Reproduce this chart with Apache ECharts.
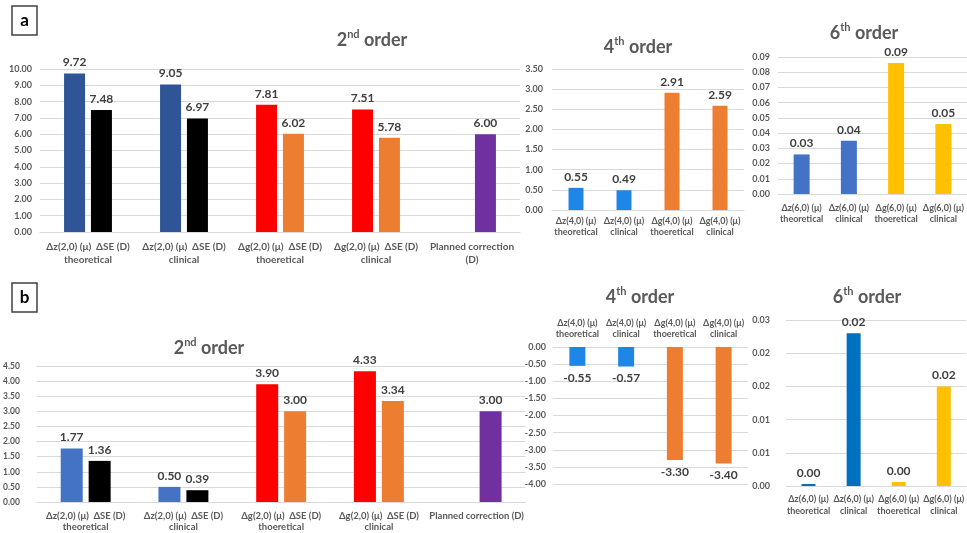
<!DOCTYPE html>
<html><head><meta charset="utf-8">
<script src="https://cdn.jsdelivr.net/npm/echarts@6/dist/echarts.min.js"></script>
<style>html,body{margin:0;padding:0;background:#fff}#c{width:967px;height:533px}</style>
</head><body><div id="c"></div>
<script>
// ---------- DATA ----------
// Panel a – 2nd order
const a2Groups = ['Δz(2,0) (μ)  ΔSE (D)\ntheoretical', 'Δz(2,0) (μ)  ΔSE (D)\nclinical', 'Δg(2,0) (μ)  ΔSE (D)\nthoeretical', 'Δg(2,0) (μ)  ΔSE (D)\nclinical', 'Planned correction\n(D)'];
const a2First = [9.72, 9.05, 7.81, 7.51, null];
const a2Second = [7.48, 6.97, 6.02, 5.78, 6.00];
// Panel a – 4th order
const a4Cats = ['Δz(4,0) (μ)\ntheoretical', 'Δz(4,0) (μ)\nclinical', 'Δg(4,0) (μ)\nthoeretical', 'Δg(4,0) (μ)\nclinical'];
const a4Values = [0.55, 0.49, 2.91, 2.59];
// Panel a – 6th order
const a6Cats = ['Δz(6,0) (μ)\ntheoretical', 'Δz(6,0) (μ)\nclinical', 'Δg(6,0) (μ)\nthoeretical', 'Δg(6,0) (μ)\nclinical'];
const a6Values = [0.026, 0.035, 0.086, 0.046];
// Panel b – 2nd order
const b2Groups = ['Δz(2,0) (μ)  ΔSE (D)\ntheoretical', 'Δz(2,0) (μ)  ΔSE (D)\nclinical', 'Δg(2,0) (μ)  ΔSE (D)\nthoeretical', 'Δg(2,0) (μ)  ΔSE (D)\nclinical', 'Planned correction (D)'];
const b2First = [1.77, 0.50, 3.90, 4.33, null];
const b2Second = [1.36, 0.39, 3.00, 3.34, 3.00];
// Panel b – 4th order
const b4Cats = ['Δz(4,0) (μ)\ntheoretical', 'Δz(4,0) (μ)\nclinical', 'Δg(4,0) (μ)\nthoeretical', 'Δg(4,0) (μ)\nclinical'];
const b4Values = [-0.55, -0.57, -3.30, -3.40];
// Panel b – 6th order
const b6Cats = ['Δz(6,0) (μ)\ntheoretical', 'Δz(6,0) (μ)\nclinical', 'Δg(6,0) (μ)\nthoeretical', 'Δg(6,0) (μ)\nclinical'];
const b6Values = [0.0003, 0.023, 0.0006, 0.015];

// ---------- STYLES ----------
const BLUE_D = '#2F5597', BLUE_M = '#4472C4', BLUE_B = '#1E86E6', BLUE_O = '#0070C0';
const RED = '#FF0000', ORANGE = '#ED7D31', BLACK = '#000000', PURPLE = '#7030A0', YELLOW = '#FFC000';
const a2FirstColors = [BLUE_D, BLUE_D, RED, RED, RED];
const a2SecondColors = [BLACK, BLACK, ORANGE, ORANGE, PURPLE];
const b2FirstColors = [BLUE_M, BLUE_M, RED, RED, RED];
const b2SecondColors = [BLACK, BLACK, ORANGE, ORANGE, PURPLE];
const a4Colors = [BLUE_B, BLUE_B, ORANGE, ORANGE];
const b4Colors = [BLUE_B, BLUE_B, ORANGE, ORANGE];
const a6Colors = [BLUE_M, BLUE_M, YELLOW, YELLOW];
const b6Colors = [BLUE_O, BLUE_O, YELLOW, YELLOW];

const GRID_C = '#D9D9D9', LBL_C = '#595959', DL_C = '#404040', FONT = 'Lato';
const fmt = v => {
  if (v === null || v === undefined || v === '-' || isNaN(v)) return '';
  const r = Math.round(v * 100 + (v >= 0 ? 1e-7 : -1e-7)) / 100;
  return (Object.is(r, -0) ? 0 : r).toFixed(2);
};

const grids = [
  {left: 40, top: 69, width: 480, height: 163},
  {left: 552, top: 69, width: 192, height: 141},
  {left: 778, top: 57, width: 193, height: 137},
  {left: 35.5, top: 366, width: 490, height: 137},
  {left: 553, top: 347, width: 195, height: 137},
  {left: 786, top: 320, width: 183, height: 166}
];

function xAx(i, data, o) {
  return {
    type: 'category', gridIndex: i, data: data, position: o.pos || 'bottom',
    axisTick: {show: false},
    axisLine: {lineStyle: {color: GRID_C, width: 1}},
    axisLabel: {interval: 0, fontSize: o.fs, fontWeight: 'bold', color: LBL_C, fontFamily: FONT,
      lineHeight: o.lh, margin: o.m}
  };
}
function yAx(i, min, max, itv, o) {
  return {
    type: 'value', gridIndex: i, min: min, max: max, interval: itv,
    axisLine: {show: false}, axisTick: {show: false},
    splitLine: {lineStyle: {color: GRID_C, width: 1}},
    axisLabel: {formatter: fmt, fontSize: o.fs, fontWeight: 'bold', color: LBL_C, fontFamily: FONT, margin: o.m}
  };
}
function items(vals, cols) {
  return vals.map((v, i) => ({value: v, itemStyle: {color: cols[i]}}));
}
function bar(i, vals, cols, o) {
  return {
    type: 'bar', xAxisIndex: i, yAxisIndex: i, data: items(vals, cols),
    barWidth: o.bw, barGap: o.gap || '30%',
    label: {show: true, position: o.lp || 'top', distance: o.d || 5, formatter: p => fmt(p.value),
      fontSize: o.lfs || 12, fontWeight: 'bold', color: DL_C, fontFamily: FONT},
    silent: true, animation: false
  };
}

function titleText(x, y, num, sup) {
  return {
    type: 'text', x: x, y: y,
    style: {
      text: '{m|' + num + '}{s|' + sup + '}{m| order}',
      align: 'center', verticalAlign: 'middle',
      rich: {
        m: {fontSize: 18, fontWeight: 'bold', fill: LBL_C, fontFamily: FONT, lineHeight: 22},
        s: {fontSize: 11, fontWeight: 'bold', fill: LBL_C, fontFamily: FONT, lineHeight: 13, verticalAlign: 'top'}
      }
    }
  };
}
function box(y, letter) {
  return [
    {type: 'rect', shape: {x: 12, y: y, width: 25, height: 29}, style: {fill: '#fff', stroke: '#404040', lineWidth: 1.5}},
    {type: 'text', x: 24.5, y: y + 14.5, style: {text: letter, align: 'center', verticalAlign: 'middle',
      fontSize: 17, fontWeight: 'bold', fill: '#000', fontFamily: FONT}}
  ];
}

const option = {
  backgroundColor: '#fff',
  animation: false,
  textStyle: {fontFamily: FONT},
  grid: grids,
  xAxis: [
    xAx(0, a2Groups, {fs: 10, lh: 13, m: 8}),
    xAx(1, a4Cats, {fs: 9, lh: 11, m: 6}),
    xAx(2, a6Cats, {fs: 9, lh: 11, m: 9}),
    xAx(3, b2Groups, {fs: 9.5, lh: 11.5, m: 8}),
    xAx(4, b4Cats, {fs: 9, lh: 11, m: 7, pos: 'top'}),
    xAx(5, b6Cats, {fs: 9, lh: 12, m: 7})
  ],
  yAxis: [
    yAx(0, 0, 10, 1, {fs: 9, m: 8}),
    yAx(1, 0, 3.5, 0.5, {fs: 9, m: 9}),
    yAx(2, 0, 0.09, 0.01, {fs: 9, m: 8}),
    yAx(3, 0, 4.5, 0.5, {fs: 8.5, m: 17}),
    yAx(4, -4, 0, 0.5, {fs: 9, m: 7}),
    yAx(5, 0, 0.025, 0.005, {fs: 9, m: 16})
  ],
  series: [
    bar(0, a2First, a2FirstColors, {bw: 21, gap: '28%'}),
    bar(0, a2Second, a2SecondColors, {bw: 21, gap: '28%'}),
    bar(1, a4Values, a4Colors, {bw: 15}),
    bar(2, a6Values, a6Colors, {bw: 16}),
    bar(3, b2First, b2FirstColors, {bw: 22, gap: '27%'}),
    bar(3, b2Second, b2SecondColors, {bw: 22, gap: '27%'}),
    bar(4, b4Values, b4Colors, {bw: 16, lp: 'bottom', d: 6}),
    bar(5, b6Values, b6Colors, {bw: 14})
  ],
  graphic: [
    ...box(6, 'a'), ...box(283, 'b'),
    titleText(372, 40, '2', 'nd'),
    titleText(638, 47, '4', 'th'),
    titleText(864, 33, '6', 'th'),
    titleText(209, 348, '2', 'nd'),
    titleText(640, 297, '4', 'th'),
    titleText(867, 297, '6', 'th')
  ]
};
const chart = echarts.init(document.getElementById('c'), null, {renderer: 'canvas'});
chart.setOption(option);
</script>
</body></html>
